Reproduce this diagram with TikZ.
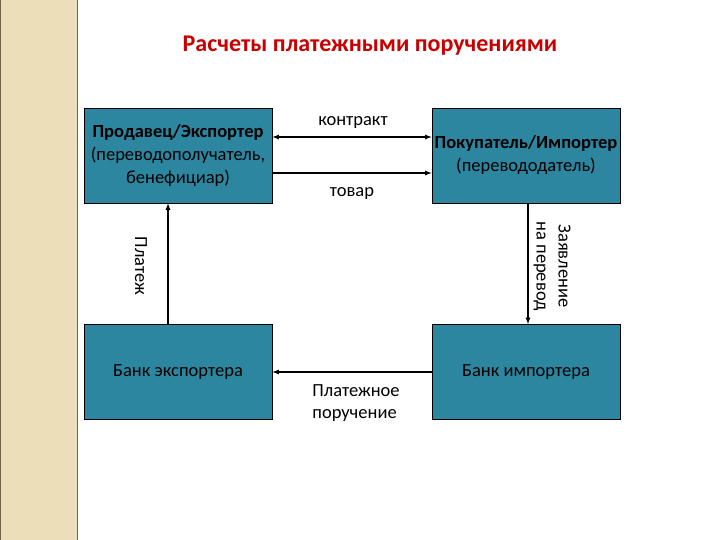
\documentclass[tikz,border=0pt]{standalone}
\usepackage{fontspec}
\setmainfont{Carlito}
\definecolor{teal1}{RGB}{44,134,160}
\definecolor{beige}{RGB}{236,222,184}
\definecolor{edge}{RGB}{110,100,80}
\definecolor{titred}{RGB}{200,0,0}
\begin{document}
\begin{tikzpicture}[x=1pt,y=-1pt,
  box/.style={draw=black,line width=0.8pt,fill=teal1,minimum width=188pt,minimum height=95pt,align=center,inner sep=2pt,font=\fontsize{18.5}{23}\selectfont},
  arr/.style={-latex,line width=1.2pt},
  lbl/.style={font=\fontsize{18.5}{22}\selectfont,align=center}]
\useasboundingbox (0,0) rectangle (720,540);
\fill[white] (0,0) rectangle (720,540);
\fill[beige] (0,0) rectangle (77,540);
\draw[line width=1pt,edge] (77,0) -- (77,540);
\draw[line width=1pt,edge] (0.5,0) -- (0.5,540);
\node[font=\bfseries\fontsize{24}{28}\selectfont,text=titred] (title) at (370,46) {Расчеты платежными поручениями};
\node[box] (seller) at (178,155.5) {\textbf{Продавец/Экспортер}\\(переводополучатель,\\бенефициар)};
\node[box] (buyer) at (526,155.5) {\textbf{Покупатель/Импортер}\\(перевододатель)};
\node[box] (bankE) at (178,372) {Банк экспортера};
\node[box] (bankI) at (526,372) {Банк импортера};
\draw[latex-latex,line width=1.2pt] (seller.east |- 0,137) -- (buyer.west |- 0,137);
\draw[arr] (seller.east |- 0,173) -- (buyer.west |- 0,173);
\node[lbl] (contract) at (353,122) {контракт};
\node[lbl] (goods) at (352,193) {товар};
\draw[arr] (bankE.north -| 168,0) -- (seller.south -| 168,0);
\draw[arr] (buyer.south -| 528,0) -- (bankI.north -| 528,0);
\draw[arr] (bankI.west) -- (bankE.east);
\node[lbl,rotate=-90] (pay) at (141,266) {Платеж};
\node[lbl,rotate=-90] (req) at (552,266) {Заявление\\на перевод};
\node[lbl,align=left] (order) at (356,403) {Платежное\\поручение};
\end{tikzpicture}
\end{document}
